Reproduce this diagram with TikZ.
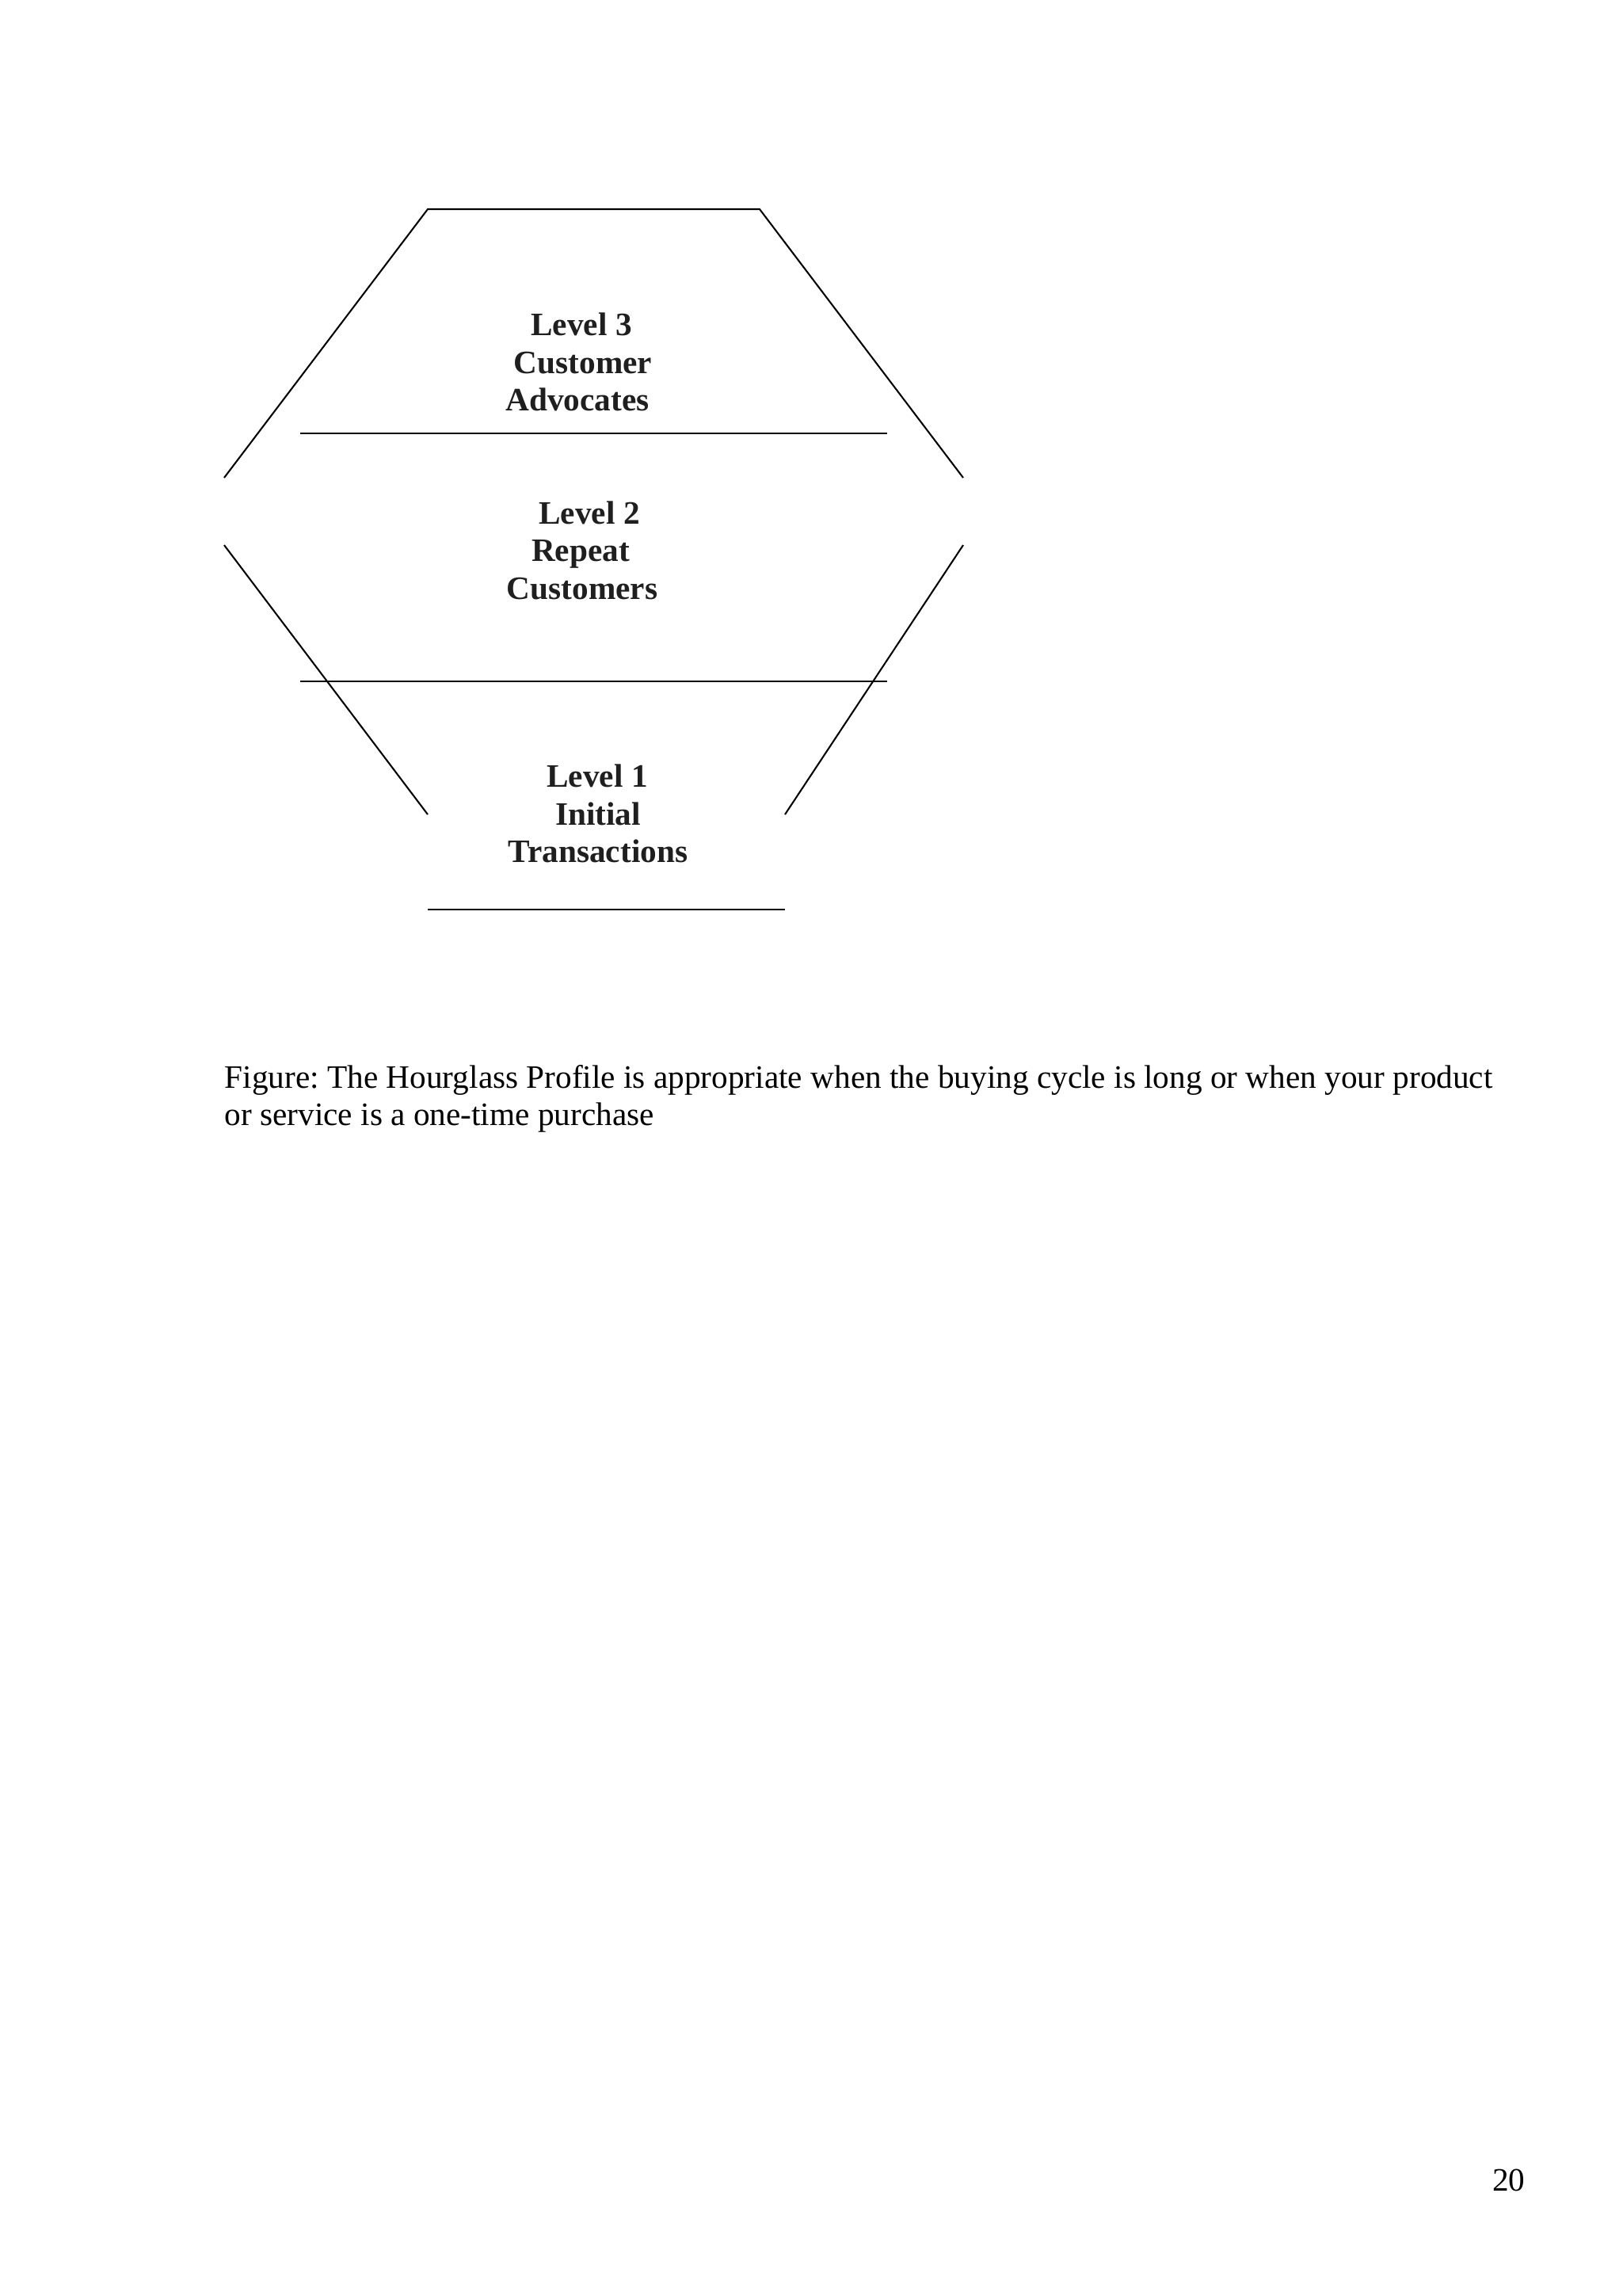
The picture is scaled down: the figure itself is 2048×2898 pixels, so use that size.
\documentclass[tikz,border=0pt]{standalone}
\usepackage{fontspec}
\setmainfont{Liberation Serif}
\frenchspacing
\begin{document}
\begin{tikzpicture}[x=0.29067pt,y=-0.29067pt,
  edge/.style={line width=0.6pt,black},
  lvl/.style={font=\fontsize{12}{13.8}\selectfont\bfseries,text=black!88,inner sep=0pt,anchor=base},
  captext/.style={font=\fontsize{12}{13.7}\selectfont,inner sep=0pt,anchor=base west},
  pnum/.style={font=\fontsize{12}{13.7}\selectfont,inner sep=0pt,anchor=base east}]
\useasboundingbox[fill=white] (0,0) rectangle (2048,2898);
% hourglass outline
\coordinate (tl) at (540,264);
\coordinate (tr) at (959,264);
\coordinate (ml1) at (283,603);
\coordinate (mr1) at (1216,603);
\coordinate (ml2) at (283,688);
\coordinate (mr2) at (1216,688);
\coordinate (bl) at (540,1028);
\coordinate (br) at (991,1028);
\coordinate (d3l) at (379,547);
\coordinate (d3r) at (1120,547);
\coordinate (d2l) at (379,860);
\coordinate (d2r) at (1120,860);
\coordinate (b1l) at (540,1148);
\coordinate (b1r) at (991,1148);
\draw[edge] (ml1) -- (tl) -- (tr) -- (mr1);
\draw[edge] (ml2) -- (bl);
\draw[edge] (mr2) -- (br);
\draw[edge] (d3l) -- (d3r);
\draw[edge] (d2l) -- (d2r);
\draw[edge] (b1l) -- (b1r);
% level texts
\node[lvl] (l3a) at (734,423) {Level 3};
\node[lvl] (l3b) at (736,471) {Customer};
\node[lvl] (l3c) at (729,518) {Advocates};
\node[lvl] (l2a) at (744,661) {Level 2};
\node[lvl] (l2b) at (733,708) {Repeat};
\node[lvl] (l2c) at (735,756) {Customers};
\node[lvl] (l1a) at (754,993) {Level 1};
\node[lvl] (l1b) at (755,1041) {Initial};
\node[lvl] (l1c) at (755,1088) {Transactions};
% caption
\node[captext] (c1) at (283,1373) {Figure: The Hourglass Profile is appropriate when the buying cycle is long or when your product};
\node[captext] (c2) at (283,1420) {or service is a one-time purchase};
% page number
\node[pnum] (pn) at (1926,2765) {20};
\end{tikzpicture}
\end{document}
